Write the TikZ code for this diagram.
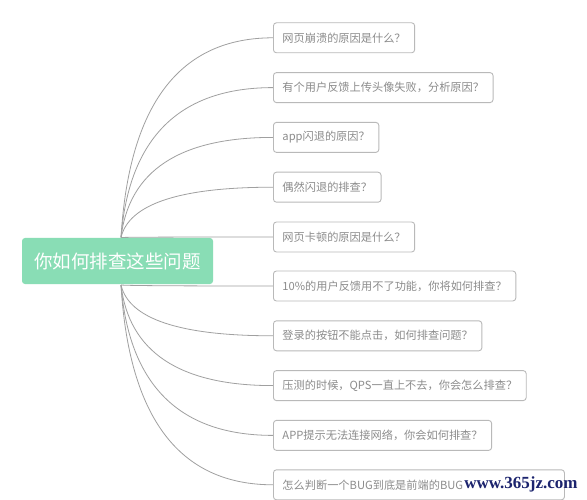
\documentclass[tikz,border=0pt]{standalone}
\usepackage{fontspec}
\setmainfont{Noto Sans CJK SC}
\newfontfamily\wmfont{Liberation Serif}
\usetikzlibrary{calc,backgrounds}
\definecolor{linegray}{RGB}{160,160,160}
\definecolor{boxgray}{RGB}{185,185,185}
\definecolor{txtgray}{RGB}{140,140,140}
\definecolor{rootgreen}{RGB}{137,221,181}
\definecolor{wmblue}{RGB}{28,36,110}
\begin{document}
\begin{tikzpicture}[x=1pt,y=-1pt,
  qbox/.style={draw=boxgray, line width=0.9pt, rounded corners=3pt, fill=white, text=txtgray,
    font=\fontsize{11.2}{13}\selectfont, minimum height=30pt, inner xsep=9pt, inner ysep=0pt, anchor=west},
  rootbox/.style={fill=rootgreen, rounded corners=3pt, text=white, font=\fontsize{18.5}{22}\selectfont,
    minimum width=191pt, minimum height=46pt, inner sep=0pt},
  conn/.style={draw=linegray, line width=0.8pt}]
\useasboundingbox (0,0) rectangle (587,500);
\node[rootbox] (root) at (117.5,261) {你如何排查这些问题};
\coordinate (rt) at (121,237.5);
\coordinate (rb) at (121,285);
\node[qbox] (q1) at (273,37.8) {网页崩溃的原因是什么？};
\node[qbox] (q2) at (273,87.6) {有个用户反馈上传头像失败，分析原因？};
\node[qbox] (q3) at (273,137.4) {app闪退的原因？};
\node[qbox] (q4) at (273,187.2) {偶然闪退的排查？};
\node[qbox] (q5) at (273,237) {网页卡顿的原因是什么？};
\node[qbox] (q6) at (273,286) {10\%的用户反馈用不了功能，你将如何排查？};
\node[qbox] (q7) at (273,335.8) {登录的按钮不能点击，如何排查问题？};
\node[qbox] (q8) at (273,385.6) {压测的时候，QPS一直上不去，你会怎么排查？};
\node[qbox] (q9) at (273,435.4) {APP提示无法连接网络，你会如何排查？};
\node[qbox, text width=273pt, align=left] (q10) at (273,484.8) {怎么判断一个BUG到底是前端的BUG};
\node[inner sep=1pt, text=wmblue, font=\wmfont\bfseries\fontsize{17}{19}\selectfont] (wm) at (521,484) {www.365jz.com};
\begin{scope}[on background layer]
\fill[white] (0,0) rectangle (587,500);
\foreach \i in {1,...,5}{
  \coordinate (c\i) at ($(rt |- q\i.west)+(12,0)$);
  \draw[conn] (rt) .. controls ($(rt)!0.667!(c\i)$) and ($(q\i.west)!0.667!(c\i)$) .. (q\i.west);
}
\foreach \i in {6,...,10}{
  \coordinate (c\i) at ($(rb |- q\i.west)+(12,0)$);
  \draw[conn] (rb) .. controls ($(rb)!0.667!(c\i)$) and ($(q\i.west)!0.667!(c\i)$) .. (q\i.west);
}
\end{scope}
\end{tikzpicture}
\end{document}
